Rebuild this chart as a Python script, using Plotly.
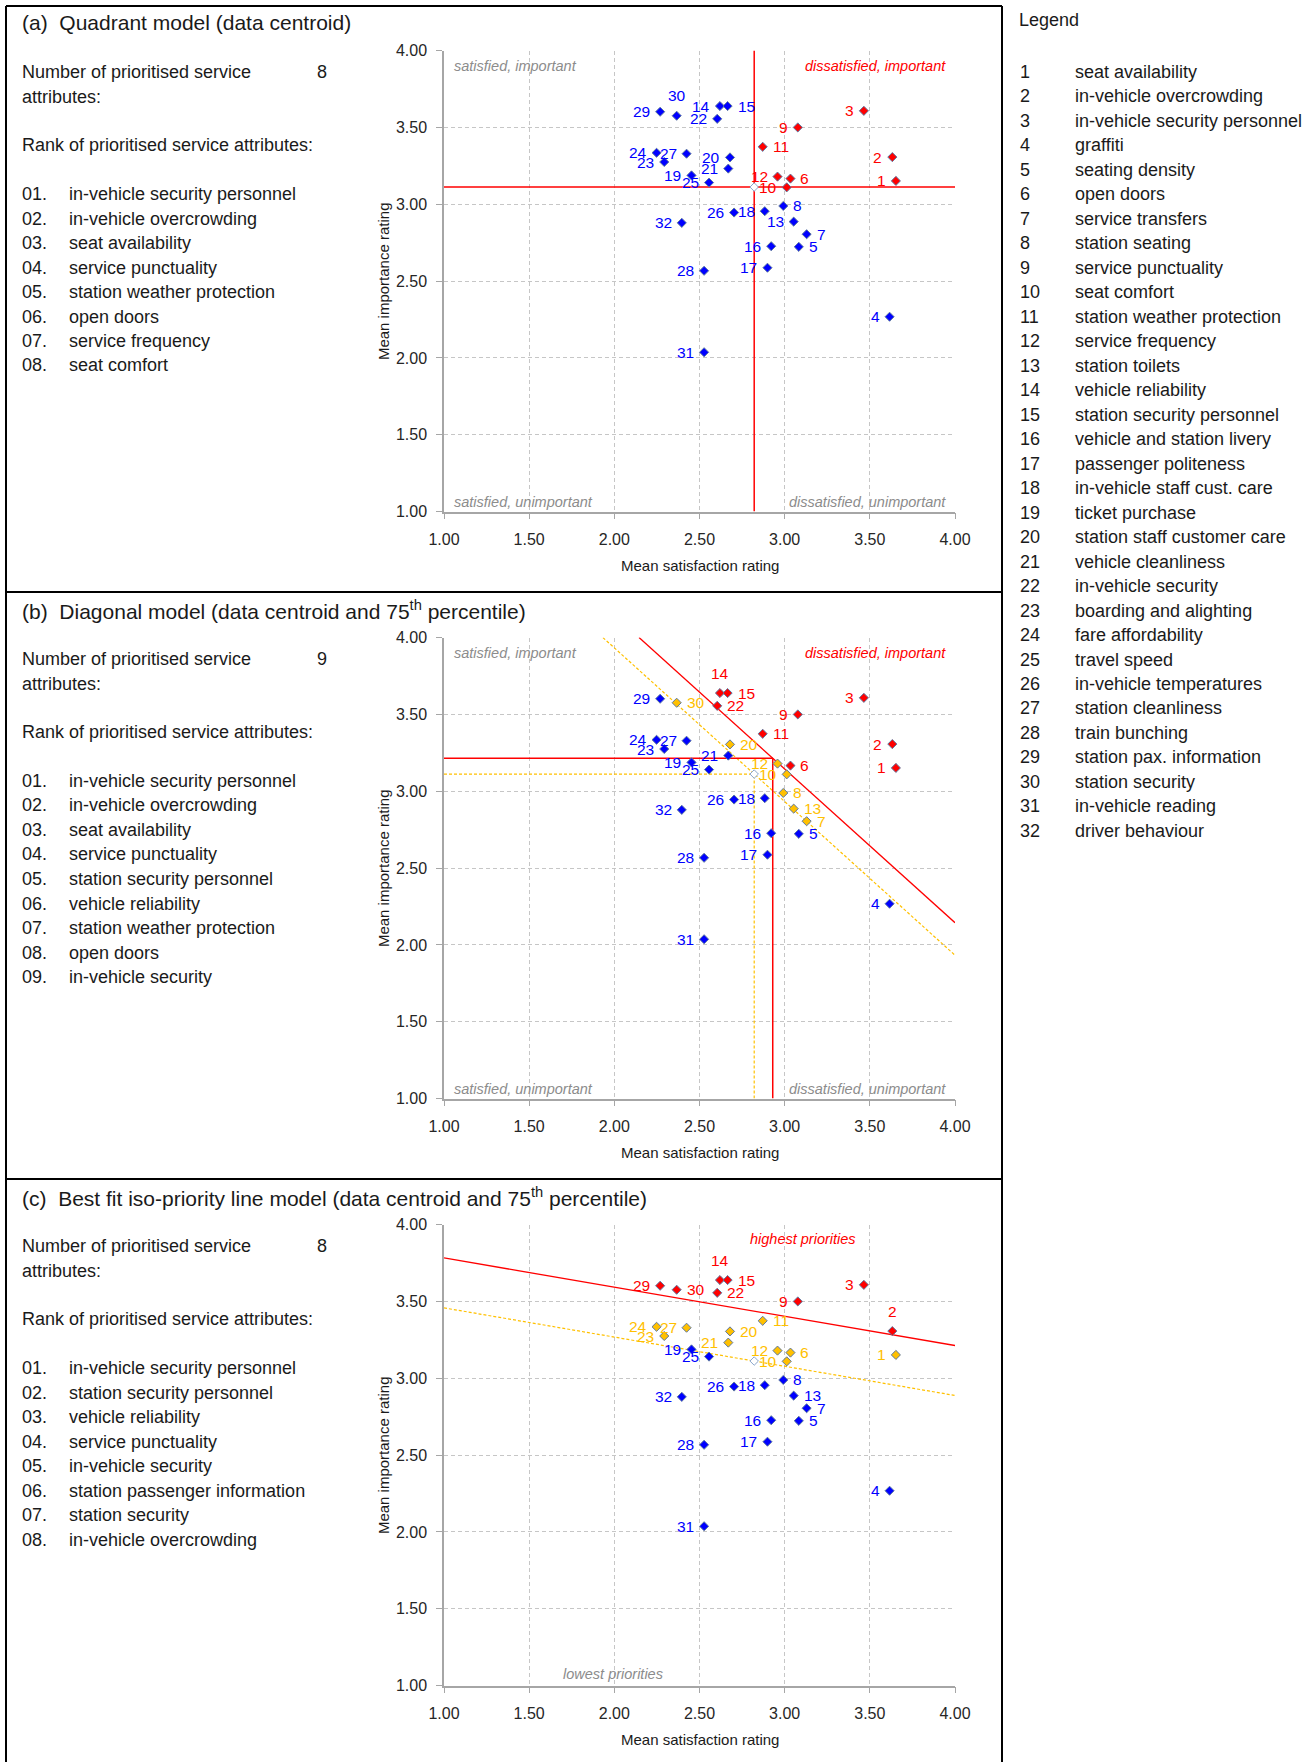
import plotly.graph_objects as go
import numpy as np

W, H = 1309, 1762
FONT = "Liberation Sans, Arial, sans-serif"

# ---------------- data ----------------
ATTR_IDS = list(range(1, 33))
ATTR_NAMES = [
    "seat availability", "in-vehicle overcrowding", "in-vehicle security personnel", "graffiti",
    "seating density", "open doors", "service transfers", "station seating",
    "service punctuality", "seat comfort", "station weather protection", "service frequency",
    "station toilets", "vehicle reliability", "station security personnel", "vehicle and station livery",
    "passenger politeness", "in-vehicle staff cust. care", "ticket purchase", "station staff customer care",
    "vehicle cleanliness", "in-vehicle security", "boarding and alighting", "fare affordability",
    "travel speed", "in-vehicle temperatures", "station cleanliness", "train bunching",
    "station pax. information", "station security", "in-vehicle reading", "driver behaviour",
]
SATISFACTION = [3.653, 3.632, 3.465, 3.616, 3.083, 3.034, 3.129, 2.992, 3.077, 3.012, 2.871, 2.958,
                3.053, 2.620, 2.665, 2.921, 2.899, 2.883, 2.453, 2.679, 2.669, 2.604, 2.293, 2.248,
                2.556, 2.703, 2.424, 2.527, 2.269, 2.366, 2.527, 2.396]
IMPORTANCE = [3.152, 3.307, 3.608, 2.268, 2.723, 3.167, 2.805, 2.989, 3.500, 3.110, 3.374, 3.180,
              2.887, 3.639, 3.639, 2.727, 2.587, 2.955, 3.188, 3.305, 3.232, 3.556, 3.275, 3.335,
              3.141, 2.946, 3.329, 2.567, 3.602, 3.576, 2.037, 2.879]

# group membership per model
A_RED = [1, 2, 3, 6, 9, 10, 11, 12]
A_YELLOW = []
B_RED = [1, 2, 3, 6, 9, 11, 14, 15, 22]
B_YELLOW = [7, 8, 10, 12, 13, 20, 30]
C_RED = [2, 3, 9, 14, 15, 22, 29, 30]
C_YELLOW = [1, 6, 10, 11, 12, 20, 21, 23, 24, 27]

# model parameters
P75_POINT = (2.93, 3.215)        # diagonal model 75th percentile reference point
ISO_SLOPE = -0.19                # best-fit iso-priority slope
ISO_UPPER_SHIFT = 0.325          # upper iso-priority line shift

TITLES = ["(a)\u00a0\u00a0Quadrant model (data centroid)",
          "(b)\u00a0\u00a0Diagonal model (data centroid and 75<sup>th</sup> percentile)",
          "(c)\u00a0\u00a0Best fit iso-priority line model (data centroid and 75<sup>th</sup> percentile)"]
N_PRIORITISED = ["8", "9", "8"]
RANKS = [
    ["in-vehicle security personnel", "in-vehicle overcrowding", "seat availability", "service punctuality",
     "station weather protection", "open doors", "service frequency", "seat comfort"],
    ["in-vehicle security personnel", "in-vehicle overcrowding", "seat availability", "service punctuality",
     "station security personnel", "vehicle reliability", "station weather protection", "open doors",
     "in-vehicle security"],
    ["in-vehicle security personnel", "station security personnel", "vehicle reliability", "service punctuality",
     "in-vehicle security", "station passenger information", "station security", "in-vehicle overcrowding"],
]

# label placement (style): R = right, T = top, default left
LBL_POS = [
    {5: "R", 6: "R", 7: "R", 8: "R", 11: "R", 15: "R", 30: "T"},
    {5: "R", 6: "R", 7: "R", 8: "R", 11: "R", 13: "R", 15: "R", 20: "R", 22: "R", 30: "R", 14: "T"},
    {5: "R", 6: "R", 7: "R", 8: "R", 11: "R", 13: "R", 15: "R", 20: "R", 22: "R", 30: "R", 14: "T", 2: "T"},
]

BLUE, RED, YELLOW, GREY = "#0000FF", "#FF0000", "#FFC000", "#8c8c8c"
BODY = 18

sx = np.array(SATISFACTION)
iy = np.array(IMPORTANCE)
cx, cy = sx.mean(), iy.mean()

fig = go.Figure()
annotations = []
shapes = []

def px(x):
    return x / W

def py(y):
    return 1 - y / H

def text_px(x, y, text, size=BODY, color="#1a1a1a", xanchor="left", yanchor="middle", **kw):
    annotations.append(dict(x=px(x), y=py(y), xref="paper", yref="paper", text=text, showarrow=False,
                            xanchor=xanchor, yanchor=yanchor, borderpad=0,
                            font=dict(family=FONT, size=size, color=color), **kw))

PLOT_L, PLOT_R = 444, 955
PANEL_STEP = 587
groups = [(A_RED, A_YELLOW), (B_RED, B_YELLOW), (C_RED, C_YELLOW)]

for p in range(3):
    off = PANEL_STEP * p
    top = 50.6 + off
    bot = top + 461
    xa = "xaxis" if p == 0 else f"xaxis{p+1}"
    ya = "yaxis" if p == 0 else f"yaxis{p+1}"
    xr = "x" if p == 0 else f"x{p+1}"
    yr = "y" if p == 0 else f"y{p+1}"
    axis_common = dict(range=[1, 4], dtick=0.5, tick0=1, tickformat=".2f", showgrid=True,
                       gridcolor="#c6c6c6", griddash="4px,3px", gridwidth=1, showline=True,
                       linecolor="#a6a6a6", linewidth=1.5, ticks="outside", ticklen=6,
                       tickcolor="#a6a6a6", tickfont=dict(family=FONT, size=16, color="#262626"),
                       zeroline=False, fixedrange=True)
    fig.update_layout(**{
        xa: dict(axis_common, domain=[px(PLOT_L), px(PLOT_R)], anchor=yr, ticklabelstandoff=6),
        ya: dict(axis_common, domain=[py(bot), py(top)], anchor=xr, ticklabelstandoff=6),
    })

    red_ids, yel_ids = groups[p]
    blue_ids = [i for i in ATTR_IDS if i not in red_ids and i not in yel_ids]
    for ids, col in [(blue_ids, BLUE), (yel_ids, YELLOW), (red_ids, RED)]:
        if not ids:
            continue
        fig.add_trace(go.Scatter(
            x=[SATISFACTION[i - 1] for i in ids], y=[IMPORTANCE[i - 1] for i in ids],
            mode="markers", xaxis=xr, yaxis=yr, showlegend=False, hoverinfo="skip",
            marker=dict(symbol="diamond", size=7, color=col, line=dict(width=1, color="#5d78a0"))))
    # centroid marker
    fig.add_trace(go.Scatter(x=[cx], y=[cy], mode="markers", xaxis=xr, yaxis=yr, showlegend=False,
                             hoverinfo="skip",
                             marker=dict(symbol="diamond", size=6.5, color="white",
                                         line=dict(width=1, color="#8aa6cc"))))
    # point labels
    for i in ATTR_IDS:
        col = RED if i in red_ids else (YELLOW if i in yel_ids else BLUE)
        pos = LBL_POS[p].get(i, "L")
        if pos == "L":
            kw = dict(xanchor="right", yanchor="middle", xshift=-9)
        elif pos == "R":
            kw = dict(xanchor="left", yanchor="middle", xshift=9)
        else:
            kw = dict(xanchor="center", yanchor="middle", yshift=20)
        annotations.append(dict(x=SATISFACTION[i - 1], y=IMPORTANCE[i - 1], xref=xr, yref=yr,
                                text=str(i), showarrow=False, borderpad=0,
                                font=dict(family=FONT, size=15.5, color=col), **kw))

    def seg(x0, y0, x1, y1, color, width=1.5, dash="solid"):
        shapes.append(dict(type="line", xref=xr, yref=yr, x0=x0, y0=y0, x1=x1, y1=y1,
                           layer="between", line=dict(color=color, width=width, dash=dash)))

    def qlabel(x, y, text, color, xanchor):
        annotations.append(dict(x=x, y=y, xref=xr, yref=yr, text=f"<i>{text}</i>", showarrow=False,
                                xanchor=xanchor, yanchor="middle", borderpad=0,
                                font=dict(family=FONT, size=14.5, color=color)))

    if p == 0:
        seg(cx, 1, cx, 4, RED)
        seg(1, cy, 4, cy, RED)
    elif p == 1:
        px75, py75 = P75_POINT
        s_red = px75 + py75
        s_yel = cx + cy
        seg(s_red - 4, 4, 4, s_red - 4, RED, 1.3)
        seg(s_yel - 4, 4, 4, s_yel - 4, YELLOW, 1.2, "3px,2px")
        seg(1, cy, cx, cy, YELLOW, 1.2, "3px,2px")
        seg(cx, 1, cx, cy, YELLOW, 1.2, "3px,2px")
        seg(1, py75, px75, py75, RED, 1.5)
        seg(px75, 1, px75, py75, RED, 1.5)
    else:
        y_yel1 = cy + ISO_SLOPE * (1 - cx)
        y_yel4 = cy + ISO_SLOPE * (4 - cx)
        seg(1, y_yel1 + ISO_UPPER_SHIFT, 4, y_yel4 + ISO_UPPER_SHIFT, RED, 1.3)
        seg(1, y_yel1, 4, y_yel4, YELLOW, 1.2, "3px,2px")

    if p < 2:
        qlabel(1.055, 3.903, "satisfied, important", GREY, "left")
        qlabel(3.955, 3.903, "dissatisfied, important", RED, "right")
        qlabel(1.055, 1.064, "satisfied, unimportant", GREY, "left")
        qlabel(3.955, 1.064, "dissatisfied, unimportant", GREY, "right")
    else:
        qlabel(3.11, 3.907, "highest priorities", RED, "center")
        qlabel(1.99, 1.075, "lowest priorities", GREY, "center")

    # axis titles
    text_px((PLOT_L + PLOT_R) / 2, 565 + off, "Mean satisfaction rating", size=15, xanchor="center")
    text_px(383, (top + bot) / 2, "Mean importance rating", size=15, xanchor="center", textangle=-90)

    # left panel texts
    text_px(20.5, 22.5 + off, TITLES[p], size=21)
    text_px(20.5, 72 + off, "Number of prioritised service", size=BODY)
    text_px(20.5, 96.6 + off, "attributes:", size=BODY)
    text_px(322, 72 + off, N_PRIORITISED[p], size=BODY, xanchor="center")
    text_px(20.5, 145 + off, "Rank of prioritised service attributes:", size=BODY)
    for k, name in enumerate(RANKS[p]):
        text_px(20.5, 194 + off + 24.5 * k, f"{k+1:02d}.", size=BODY)
        text_px(68, 194 + off + 24.5 * k, name, size=BODY)

# legend column
text_px(1018, 20, "Legend", size=BODY)
for k, (i, name) in enumerate(zip(ATTR_IDS, ATTR_NAMES)):
    yy = 72 + 24.48 * k
    text_px(1019, yy, str(i), size=BODY)
    text_px(1074, yy, name, size=BODY)

# panel frames
def frame(x0, y0, x1, y1):
    shapes.append(dict(type="line", xref="paper", yref="paper", x0=px(x0), y0=py(y0), x1=px(x1), y1=py(y1),
                       line=dict(color="black", width=2)))

frame(6, 6, 1002, 6)
frame(6, 6, 6, 1762)
frame(1002, 6, 1002, 1762)
frame(6, 592, 1003, 592)
frame(6, 1179, 1003, 1179)

fig.update_layout(width=W, height=H, margin=dict(l=0, r=0, t=0, b=0, pad=0, autoexpand=False),
                  paper_bgcolor="white", plot_bgcolor="white", annotations=annotations, shapes=shapes,
                  showlegend=False, font=dict(family=FONT))
fig.write_html("out.html", config={"displayModeBar": False},
               post_script="document.body.style.margin='0';document.body.style.padding='0';"
                           "document.documentElement.style.overflow='hidden';")
